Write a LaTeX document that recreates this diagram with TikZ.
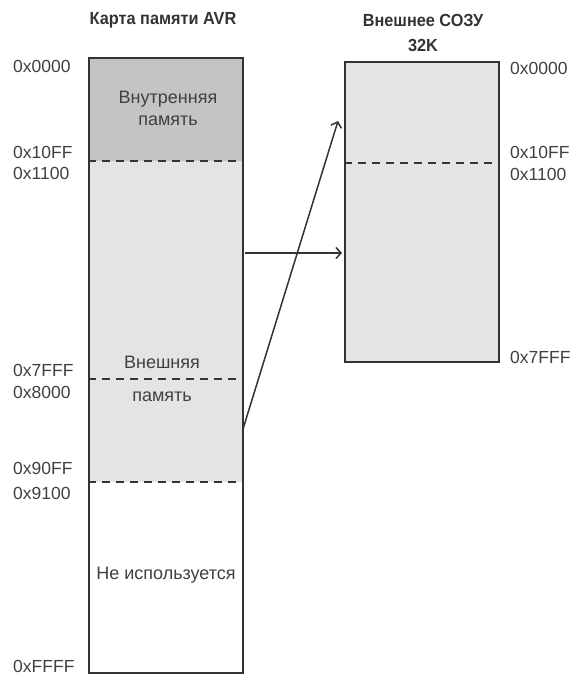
\documentclass[tikz,border=0pt]{standalone}
\usepackage{fontspec}
\setmainfont{Liberation Sans}
\newfontfamily\titlefont[FakeStretch=0.93]{Liberation Sans}
\usetikzlibrary{arrows.meta}
\definecolor{darkfill}{HTML}{C4C4C4}
\definecolor{lightfill}{HTML}{E3E4E3}
\definecolor{ink}{HTML}{333333}
\definecolor{txt}{HTML}{404040}
\tikzset{
  border/.style={draw=ink, line width=2pt},
  sep/.style={draw=ink, line width=1.7pt, dash pattern=on 8pt off 6pt},
  addr/.style={text=txt, font=\fontsize{17.5}{20}\selectfont, inner sep=0pt},
  inner/.style={text=txt, font=\fontsize{18}{20}\selectfont, inner sep=0pt, align=center},
  title/.style={text=ink, font=\titlefont\bfseries\fontsize{17.5}{25}\selectfont, inner sep=0pt, align=center},
  link/.style={draw=ink, line width=1.5pt, -{Straight Barb[length=5pt,width=11pt,line width=1.5pt]}}
}
\begin{document}
\begin{tikzpicture}[x=1pt,y=-1pt]
\useasboundingbox (0,0) rectangle (572,677);
% left memory map
\fill[darkfill] (88,57) rectangle (242,161);
\fill[lightfill] (88,161) rectangle (242,482);
\draw[sep] (88,161) -- (242,161);
\draw[sep] (88,379) -- (242,379);
\draw[sep] (88,482) -- (242,482);
\node[border, minimum width=154pt, minimum height=615pt, anchor=north west, inner sep=0pt] (avr) at (88,57) {};
% right memory
\node[border, fill=lightfill, minimum width=154pt, minimum height=300pt, anchor=north west, inner sep=0pt] (sram) at (344,61) {};
\draw[sep] (344,163) -- (498,163);
% titles
\node[title] (t1) at (163,20) {Карта памяти AVR};
\node[title] (t2) at (423,33) {Внешнее СОЗУ\\32K};
% inner texts
\node[inner] (i1) at (168,108) {Внутренняя\\[2pt]память};
\node[inner] (i2) at (162,362) {Внешняя};
\node[inner] (i3) at (162,397) {память};
\node[inner] (i4) at (166,575) {Не используется};
% left addresses
\node[addr, anchor=west] (a1) at (13,66) {0x0000};
\node[addr, anchor=west] (a2) at (13,152) {0x10FF};
\node[addr, anchor=west] (a3) at (13,173) {0x1100};
\node[addr, anchor=west] (a4) at (13,370) {0x7FFF};
\node[addr, anchor=west] (a5) at (13,392) {0x8000};
\node[addr, anchor=west] (a6) at (13,468) {0x90FF};
\node[addr, anchor=west] (a7) at (13,493) {0x9100};
\node[addr, anchor=west] (a8) at (13,666) {0xFFFF};
% right addresses
\node[addr, anchor=west] (b1) at (510,68) {0x0000};
\node[addr, anchor=west] (b2) at (510,152) {0x10FF};
\node[addr, anchor=west] (b3) at (510,174) {0x1100};
\node[addr, anchor=west] (b4) at (510,357) {0x7FFF};
% connectors
\coordinate (s1) at (245,253);
\coordinate (d1) at (342,253);
\coordinate (s2) at (243,429);
\coordinate (d2) at (338,121);
\draw[link] (s1) -- (d1);
\draw[link] (s2) -- (d2);
\end{tikzpicture}
\end{document}
